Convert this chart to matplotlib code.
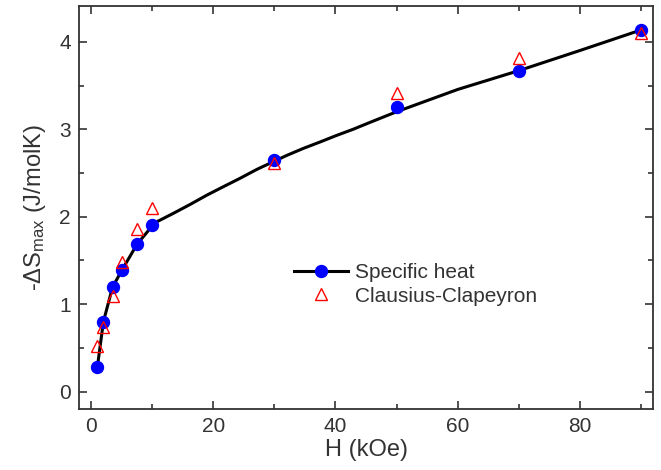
import numpy as np
from matplotlib import pyplot as plt
from matplotlib.ticker import MultipleLocator

plt.rcParams['font.family'] = ['Liberation Sans', 'DejaVu Sans']
plt.rcParams['mathtext.fontset'] = 'custom'
plt.rcParams['mathtext.rm'] = 'Liberation Sans'
plt.rcParams['mathtext.it'] = 'Liberation Sans:italic'

# specific heat data (blue circles)
h_cp = [1, 2, 3.5, 5, 7.5, 10, 30, 50, 70, 90]
s_cp = [0.277, 0.80, 1.195, 1.385, 1.684, 1.91, 2.645, 3.25, 3.67, 4.135]

# Clausius-Clapeyron data (red triangles)
h_cc = [1, 2, 3.5, 5, 7.5, 10, 30, 50, 70, 90]
s_cc = [0.52, 0.735, 1.09, 1.48, 1.86, 2.10, 2.615, 3.42, 3.82, 4.10]

# black curve
h_fit = [1, 2, 3.5, 5, 7.5, 10, 10.7, 13.5, 16.2, 18.9, 21.7, 24.4, 27.1, 30,
         32.0, 34.7, 37.5, 40.2, 42.9, 45.7, 50, 60, 70, 80, 90]
s_fit = [0.277, 0.80, 1.195, 1.385, 1.684, 1.895, 1.94, 2.04, 2.14, 2.245, 2.345, 2.44, 2.54, 2.635,
         2.70, 2.78, 2.855, 2.93, 3.00, 3.08, 3.20, 3.455, 3.67, 3.90, 4.135]

text_col = '#333333'

fig = plt.figure(figsize=(6.61, 4.70), dpi=100)
ax = fig.add_axes([79/661, 1-409/470, (653-79)/661, (409-6)/470])

ax.plot(h_fit, s_fit, color='black', lw=2.2, zorder=2, solid_joinstyle='round')
ax.plot(h_cp, s_cp, 'o', color='#0000ff', ms=8.6, mec='#0000ff', zorder=3)
ax.plot(h_cc, s_cc, '^', color='red', mfc='none', ms=8.8, mew=1.0, zorder=4)

# legend proxies
l1, = ax.plot([], [], '-o', color='black', lw=2.2, mfc='#0000ff', mec='#0000ff', ms=8.6)
l2, = ax.plot([], [], '^', color='red', mfc='none', ms=8.8, mew=1.0)
ax.legend([l1, l2], ['Specific heat', 'Clausius-Clapeyron'], loc='center left',
          bbox_to_anchor=(0.375, 0.309), frameon=False, fontsize=15,
          borderpad=0, borderaxespad=0, handlelength=2.6, handletextpad=0.3,
          labelspacing=0.2, labelcolor=text_col)

ax.set_xlim(-2, 92)
ax.set_ylim(-0.2, 4.41)
ax.xaxis.set_major_locator(MultipleLocator(20))
ax.xaxis.set_minor_locator(MultipleLocator(10))
ax.yaxis.set_major_locator(MultipleLocator(1))
ax.yaxis.set_minor_locator(MultipleLocator(0.5))
ax.tick_params(which='both', direction='in', top=True, right=True, colors=text_col,
               labelsize=15, width=1.2)
ax.tick_params(which='major', length=6, pad=6)
ax.tick_params(which='minor', length=3.5)
for sp in ax.spines.values():
    sp.set_color(text_col)
    sp.set_linewidth(1.3)

ax.set_xlabel('H (kOe)', fontsize=17, color=text_col, labelpad=2)
ax.set_ylabel(r'-$\Delta$S$_{\rm max}$ (J/molK)', fontsize=17, color=text_col, labelpad=8)

plt.savefig('out.png', dpi=100)
